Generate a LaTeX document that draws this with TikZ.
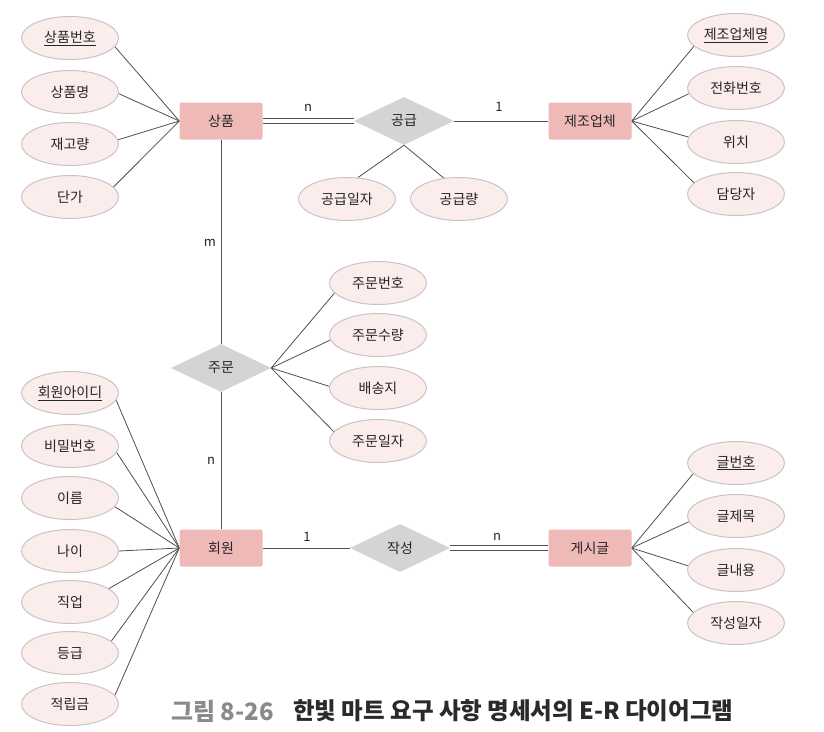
\documentclass[tikz,border=0pt]{standalone}
\usepackage{fontspec}
\setmainfont{Noto Sans CJK KR}
\usetikzlibrary{shapes.geometric}
\definecolor{entfill}{HTML}{EFB9B8}
\definecolor{attfill}{HTML}{FBEDEC}
\definecolor{attdraw}{HTML}{C9C4C3}
\definecolor{relfill}{HTML}{D4D4D4}
\definecolor{linec}{HTML}{505050}
\definecolor{txt}{HTML}{262626}
\definecolor{capgray}{HTML}{8A8A8A}
\definecolor{capdark}{HTML}{2A2A2A}
\pgfdeclarelayer{paper}
\pgfdeclarelayer{bg}
\pgfsetlayers{paper,bg,main}
\begin{document}
\begin{tikzpicture}[x=1pt,y=-1pt,
  every node/.style={font=\fontsize{14}{16}\selectfont, text=txt},
  entity/.style={rectangle, rounded corners=2pt, fill=entfill, minimum width=83pt, minimum height=37pt, inner sep=0pt},
  attr/.style={ellipse, fill=attfill, draw=attdraw, line width=1pt, minimum width=97pt, minimum height=43pt, inner sep=0pt},
  rel/.style={diamond, fill=relfill, minimum width=100pt, minimum height=48pt, inner sep=0pt, aspect=2},
  conn/.style={draw=linec, line width=0.8pt},
  card/.style={font=\fontsize{13}{15}\selectfont, text=txt}]
\begin{pgfonlayer}{paper}
\useasboundingbox[fill=white] (0,0) rectangle (824,731);
\end{pgfonlayer}

% entities
\node[entity] (sp) at (221,121) {상품};
\node[entity] (mf) at (590,121) {제조업체};
\node[entity] (mem) at (221,548) {회원};
\node[entity] (post) at (590,548) {게시글};

% relationships
\node[rel] (sup) at (404,121) {공급};
\node[rel] (ord) at (221,368) {주문};
\node[rel] (wr) at (400,548) {작성};

% attributes of 상품
\node[attr] (a1) at (70,38) {\underline{상품번호}};
\node[attr] (a2) at (70,92) {상품명};
\node[attr] (a3) at (70,144) {재고량};
\node[attr] (a4) at (70,197) {단가};

% attributes of 공급
\node[attr] (s1) at (347,199) {공급일자};
\node[attr] (s2) at (459,199) {공급량};

% attributes of 제조업체
\node[attr] (m1) at (736,35) {\underline{제조업체명}};
\node[attr] (m2) at (736,88) {전화번호};
\node[attr] (m3) at (736,142) {위치};
\node[attr] (m4) at (736,194) {담당자};

% attributes of 주문
\node[attr] (o1) at (378,283) {주문번호};
\node[attr] (o2) at (378,335) {주문수량};
\node[attr] (o3) at (378,388) {배송지};
\node[attr] (o4) at (378,441) {주문일자};

% attributes of 회원
\node[attr] (u1) at (70,393) {\underline{회원아이디}};
\node[attr] (u2) at (70,446) {비밀번호};
\node[attr] (u3) at (70,498) {이름};
\node[attr] (u4) at (70,551) {나이};
\node[attr] (u5) at (70,602) {직업};
\node[attr] (u6) at (70,653) {등급};
\node[attr] (u7) at (70,704) {적립금};

% attributes of 게시글
\node[attr] (p1) at (736,463) {\underline{글번호}};
\node[attr] (p2) at (736,516) {글제목};
\node[attr] (p3) at (736,570) {글내용};
\node[attr] (p4) at (736,623) {작성일자};

\begin{pgfonlayer}{bg}
  % relationship connectors (double lines = total participation)
  \draw[conn] ([yshift=2.2pt]sp.east) -- ([yshift=2.2pt]sup.west);
  \draw[conn] ([yshift=-2.2pt]sp.east) -- ([yshift=-2.2pt]sup.west);
  \draw[conn] (sup.east) -- (mf.west);
  \draw[conn] (sp.south) -- (ord.north);
  \draw[conn] (ord.south) -- (mem.north);
  \draw[conn] (mem.east) -- (wr.west);
  \draw[conn] ([yshift=2.2pt]wr.east) -- ([yshift=2.2pt]post.west);
  \draw[conn] ([yshift=-2.2pt]wr.east) -- ([yshift=-2.2pt]post.west);

  % attribute connectors
  \draw[conn] (a1.-11) -- (sp.west);
  \draw[conn] (a2.-2) -- (sp.west);
  \draw[conn] (a3.5) -- (sp.west);
  \draw[conn] (a4.13) -- (sp.west);

  \draw[conn] (s1.63) -- (sup.south);
  \draw[conn] (s2.126) -- (sup.south);

  \draw[conn] (m1.195) -- (mf.east);
  \draw[conn] (m2.187) -- (mf.east);
  \draw[conn] (m3.174) -- (mf.east);
  \draw[conn] (m4.165) -- (mf.east);

  \draw[conn] (o1.193) -- (ord.east);
  \draw[conn] (o2.186) -- (ord.east);
  \draw[conn] (o3.178) -- (ord.east);
  \draw[conn] (o4.168) -- (ord.east);

  \draw[conn] (u1.-9) -- (mem.west);
  \draw[conn] (u2.-8) -- (mem.west);
  \draw[conn] (u3.-11) -- (mem.west);
  \draw[conn] (u4.0) -- (mem.west);
  \draw[conn] (u5.19) -- (mem.west);
  \draw[conn] (u6.16) -- (mem.west);
  \draw[conn] (u7.11) -- (mem.west);

  \draw[conn] (p1.194) -- (post.east);
  \draw[conn] (p2.187) -- (post.east);
  \draw[conn] (p3.175) -- (post.east);
  \draw[conn] (p4.166) -- (post.east);
\end{pgfonlayer}

% cardinalities
\node[card] (c1) at (308,108) {n};
\node[card] (c2) at (499,107) {1};
\node[card] (c3) at (210,243) {m};
\node[card] (c4) at (211,461) {n};
\node[card] (c5) at (307,537) {1};
\node[card] (c6) at (497,537) {n};

% caption
\node[anchor=west, font=\fontsize{24}{27}\selectfont\bfseries, text=capgray, inner sep=0pt] (cap1) at (171,711) {그림 8-26};
\node[anchor=west, font=\fontsize{23.5}{27}\selectfont\bfseries, text=capdark, inner sep=0pt] (cap2) at (293,711) {한빛 마트 요구 사항 명세서의 E-R 다이어그램};
\end{tikzpicture}
\end{document}
